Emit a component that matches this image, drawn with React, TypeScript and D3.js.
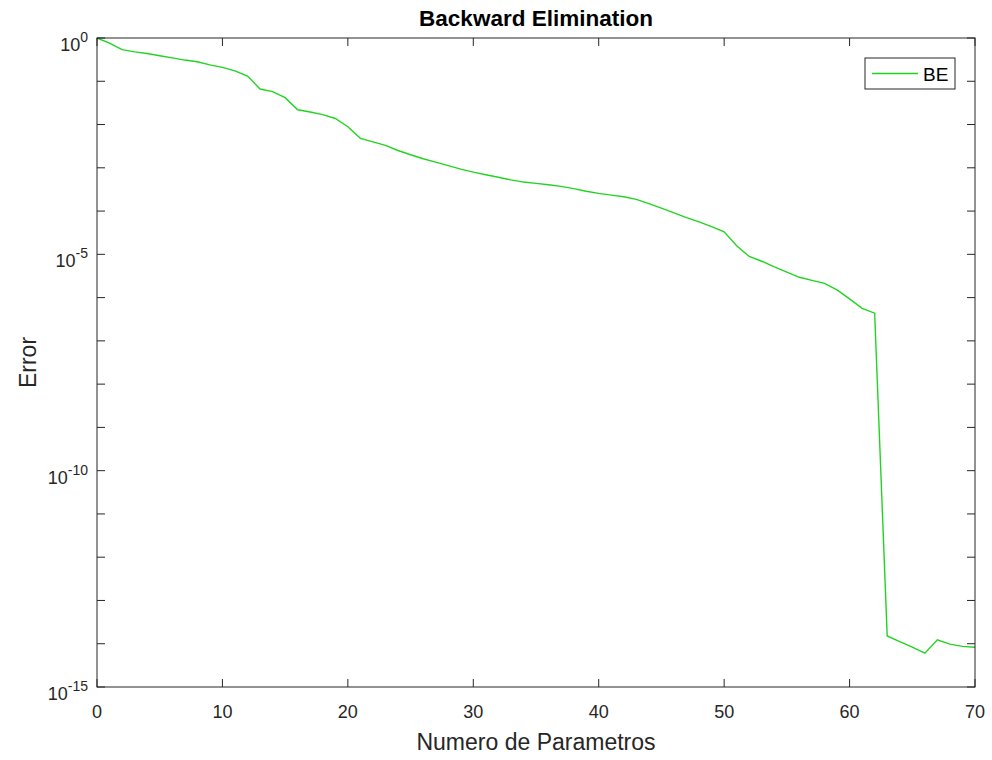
import React, { useRef, useEffect } from "react";
import * as d3 from "d3";

// number of parameters (x) and error (y)
const parametros = d3.range(0, 71);
const errorBE = [
  1.0, 0.759, 0.537, 0.479, 0.437, 0.389, 0.347, 0.309, 0.282, 0.24,
  0.209, 0.174, 0.132, 0.0661, 0.0575, 0.0417, 0.0219, 0.0195, 0.017, 0.0138,
  0.00891, 0.00479, 0.00398, 0.00331, 0.00251, 0.002, 0.00162, 0.00135, 0.00112, 9.33e-4,
  7.94e-4, 6.92e-4, 6.03e-4, 5.25e-4, 4.68e-4, 4.37e-4, 4.07e-4, 3.72e-4, 3.31e-4, 2.88e-4,
  2.57e-4, 2.34e-4, 2.14e-4, 1.86e-4, 1.48e-4, 1.17e-4, 9.12e-5, 7.08e-5, 5.62e-5, 4.37e-5,
  3.31e-5, 1.58e-5, 8.91e-6, 6.92e-6, 5.13e-6, 3.89e-6, 2.95e-6, 2.51e-6, 2.14e-6, 1.51e-6,
  9.33e-7, 5.62e-7, 4.37e-7, 1.51e-14, 1.12e-14, 8.32e-15, 6.03e-15, 1.23e-14, 9.77e-15, 8.71e-15,
  8.32e-15,
];
const xTicks = [0, 10, 20, 30, 40, 50, 60, 70];
const yTickExps = d3.range(0, -16, -1);
const yLabelExps = [0, -5, -10, -15];

const width = 992;
const height = 760;
const margin = { left: 97, right: 17, top: 38, bottom: 73 };
const axisColor = "#262626";
const lineColor = "#22d422";
const font = "'Liberation Sans', Arial, Helvetica, sans-serif";
const tickLen = 8;

const App = () => {
  const plot = useRef(null);

  useEffect(() => {
    const svg = d3.select(plot.current);
    svg.selectAll("*").remove();

    const plotWidth = width - margin.left - margin.right;
    const plotHeight = height - margin.top - margin.bottom;

    const x = d3.scaleLinear().domain([0, 70]).range([margin.left, margin.left + plotWidth]);
    const y = d3.scaleLog().domain([1e-15, 1]).range([margin.top + plotHeight, margin.top]);

    const x0 = x(0), x1 = x(70), y0 = y(1e-15), y1 = y(1);

    svg.append("rect").attr("width", width).attr("height", height).attr("fill", "white");

    // the data line
    const line = d3.line()
      .x((d, i) => x(parametros[i]))
      .y(d => y(d));
    svg.append("path")
      .datum(errorBE)
      .attr("d", line)
      .attr("fill", "none")
      .attr("stroke", lineColor)
      .attr("stroke-width", 1.4);

    // box
    svg.append("rect")
      .attr("x", x0).attr("y", y1)
      .attr("width", x1 - x0).attr("height", y0 - y1)
      .attr("fill", "none")
      .attr("stroke", axisColor)
      .attr("stroke-width", 1);

    // x ticks, bottom and top
    const gx = svg.append("g").attr("stroke", axisColor);
    xTicks.forEach(t => {
      gx.append("line").attr("x1", x(t)).attr("x2", x(t)).attr("y1", y0).attr("y2", y0 - tickLen);
      gx.append("line").attr("x1", x(t)).attr("x2", x(t)).attr("y1", y1).attr("y2", y1 + tickLen);
    });
    svg.append("g")
      .selectAll("text")
      .data(xTicks)
      .join("text")
      .attr("x", d => x(d))
      .attr("y", y0 + 31)
      .attr("text-anchor", "middle")
      .attr("font-family", font)
      .attr("font-size", 18)
      .attr("fill", axisColor)
      .text(d => d);

    // y ticks, left and right
    const gy = svg.append("g").attr("stroke", axisColor);
    yTickExps.forEach(e => {
      const v = Math.pow(10, e);
      gy.append("line").attr("x1", x0).attr("x2", x0 + tickLen).attr("y1", y(v)).attr("y2", y(v));
      gy.append("line").attr("x1", x1).attr("x2", x1 - tickLen).attr("y1", y(v)).attr("y2", y(v));
    });
    const yl = svg.append("g")
      .selectAll("text")
      .data(yLabelExps)
      .join("text")
      .attr("x", x0 - 9)
      .attr("y", d => y(Math.pow(10, d)) + 13)
      .attr("text-anchor", "end")
      .attr("font-family", font)
      .attr("fill", axisColor);
    yl.append("tspan").attr("font-size", 18).text("10");
    yl.append("tspan").attr("font-size", 14).attr("dy", -9).text(d => String(d));

    // title and axis labels
    svg.append("text")
      .attr("x", (x0 + x1) / 2).attr("y", 26)
      .attr("text-anchor", "middle")
      .attr("font-family", font)
      .attr("font-weight", "bold")
      .attr("font-size", 22.5)
      .attr("fill", "black")
      .text("Backward Elimination");

    svg.append("text")
      .attr("x", (x0 + x1) / 2).attr("y", y0 + 63)
      .attr("text-anchor", "middle")
      .attr("font-family", font)
      .attr("font-size", 23)
      .attr("fill", axisColor)
      .text("Numero de Parametros");

    svg.append("text")
      .attr("transform", `translate(36, ${(y0 + y1) / 2}) rotate(-90)`)
      .attr("text-anchor", "middle")
      .attr("font-family", font)
      .attr("font-size", 23)
      .attr("fill", axisColor)
      .text("Error");

    // legend
    const lg = svg.append("g").attr("transform", `translate(865, 58)`);
    lg.append("rect")
      .attr("width", 90).attr("height", 31)
      .attr("fill", "white")
      .attr("stroke", axisColor);
    lg.append("line")
      .attr("x1", 7).attr("x2", 53).attr("y1", 15.5).attr("y2", 15.5)
      .attr("stroke", lineColor).attr("stroke-width", 1.4);
    lg.append("text")
      .attr("x", 58).attr("y", 23)
      .attr("font-family", font)
      .attr("font-size", 19)
      .attr("fill", "black")
      .text("BE");
  });

  return (
    <svg ref={plot} width={width} height={height}
      style={{ position: "absolute", left: 0, top: 0 }} />
  );
};

export default App;
